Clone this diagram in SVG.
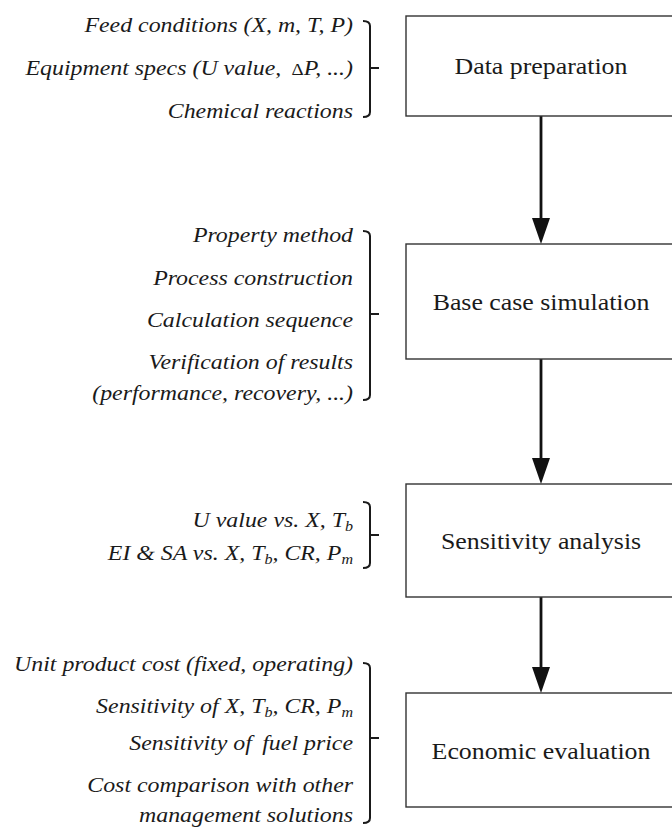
<svg xmlns="http://www.w3.org/2000/svg" width="672" height="837" viewBox="0 0 672 837">
<style>
.box{fill:#fff;stroke:#333;stroke-width:1.4}
.lbl{font-family:"Liberation Serif","Times New Roman",serif;font-size:23.5px;fill:#1a1a1a;text-anchor:middle}
.it{font-family:"Liberation Serif","Times New Roman",serif;font-style:italic;font-size:21.5px;fill:#1a1a1a;text-anchor:end}
.sub{font-size:14.5px}
.br{fill:none;stroke:#1a1a1a;stroke-width:2}
.conn{stroke:#111;stroke-width:2.8;fill:none}
.head{fill:#111}
</style>
<rect width="672" height="837" fill="#fff"/>
<g id="connectors">
<line class="conn" x1="541" y1="116" x2="541" y2="220"/>
<polygon class="head" points="532,218 550,218 541,244"/>
<line class="conn" x1="541" y1="359" x2="541" y2="460"/>
<polygon class="head" points="532,458 550,458 541,484"/>
<line class="conn" x1="541" y1="597" x2="541" y2="669"/>
<polygon class="head" points="532,667 550,667 541,693"/>
</g>
<g id="node-data-preparation">
<rect class="box" x="406" y="16" width="270" height="100"/>
<text class="lbl" transform="translate(541 0) scale(1.1 1)" x="0" y="74">Data preparation</text>
</g>
<g id="notes-data-preparation">
<g transform="translate(353 0) scale(1.11 1)">
<text class="it" x="0" y="32">Feed conditions (X, m, T, P)</text>
<text class="it" x="0" y="75">Equipment specs (U value, <tspan dx="4" font-style="normal" font-size="17">Δ</tspan>P, ...)</text>
<text class="it" x="0" y="118">Chemical reactions</text>
</g>
<path class="br" d="M363,21 Q370,21 370,26 V112 Q370,117 363,117 M370,68 H379"/>
</g>
<g id="node-base-case">
<rect class="box" x="406" y="244" width="270" height="115"/>
<text class="lbl" transform="translate(541 0) scale(1.1 1)" x="0" y="310">Base case simulation</text>
</g>
<g id="notes-base-case">
<g transform="translate(353 0) scale(1.11 1)">
<text class="it" x="0" y="242">Property method</text>
<text class="it" x="0" y="285">Process construction</text>
<text class="it" x="0" y="327">Calculation sequence</text>
<text class="it" x="0" y="369">Verification of results</text>
<text class="it" x="0" y="400">(performance, recovery, ...)</text>
</g>
<path class="br" d="M363,231 Q370,231 370,236 V395 Q370,400 363,400 M370,314 H379"/>
</g>
<g id="node-sensitivity">
<rect class="box" x="406" y="484" width="270" height="113"/>
<text class="lbl" transform="translate(541 0) scale(1.1 1)" x="0" y="549">Sensitivity analysis</text>
</g>
<g id="notes-sensitivity">
<g transform="translate(353 0) scale(1.11 1)">
<text class="it" x="0" y="527">U value vs. X, T<tspan class="sub" dy="4">b</tspan></text>
<text class="it" x="0" y="560">EI &amp; SA vs. X, T<tspan class="sub" dy="4">b</tspan><tspan dy="-4">, CR, P</tspan><tspan class="sub" dy="4">m</tspan></text>
</g>
<path class="br" d="M363,502 Q370,502 370,507 V563 Q370,568 363,568 M370,535 H379"/>
</g>
<g id="node-economic">
<rect class="box" x="406" y="693" width="270" height="114"/>
<text class="lbl" transform="translate(541 0) scale(1.1 1)" x="0" y="759">Economic evaluation</text>
</g>
<g id="notes-economic">
<g transform="translate(353 0) scale(1.11 1)">
<text class="it" x="0" y="671">Unit product cost (fixed, operating)</text>
<text class="it" x="0" y="713">Sensitivity of X, T<tspan class="sub" dy="4">b</tspan><tspan dy="-4">, CR, P</tspan><tspan class="sub" dy="4">m</tspan></text>
<text class="it" x="0" y="750">Sensitivity of <tspan dx="4">fuel price</tspan></text>
<text class="it" x="0" y="792">Cost comparison with other</text>
<text class="it" x="0" y="822">management solutions</text>
</g>
<path class="br" d="M363,663 Q370,663 370,668 V818 Q370,823 363,823 M370,738 H379"/>
</g>
</svg>
